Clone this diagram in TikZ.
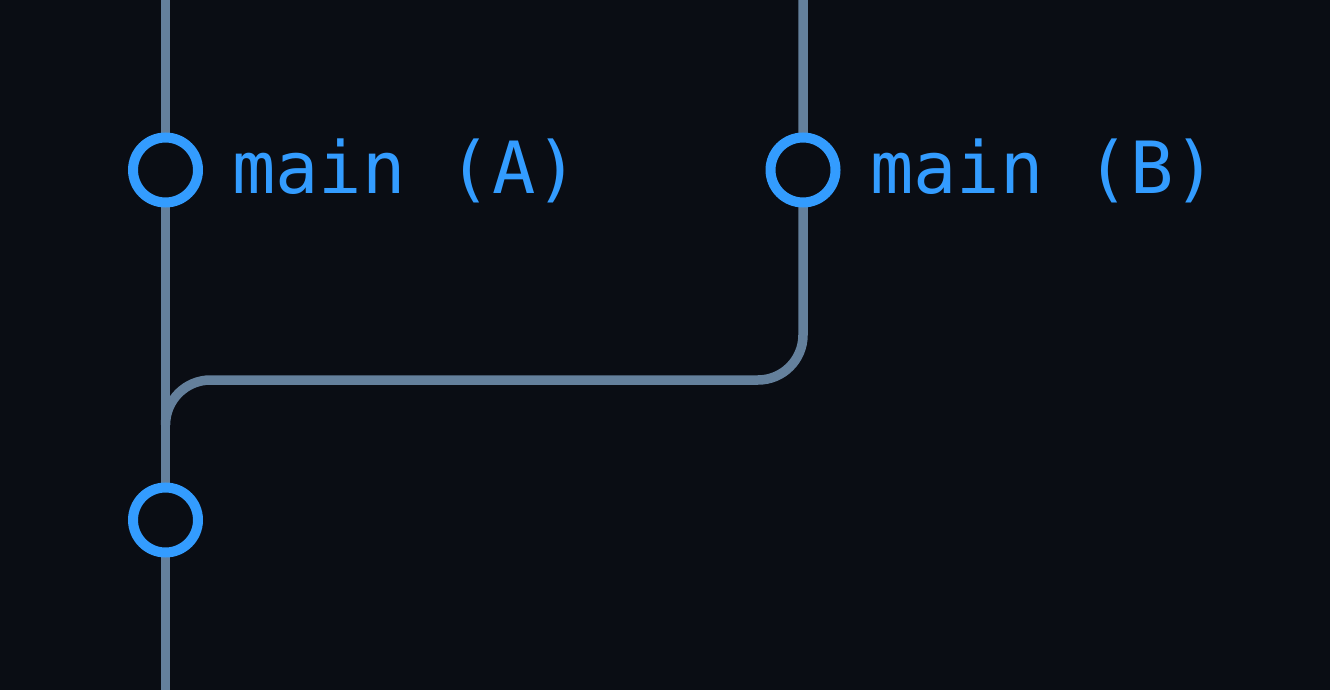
\documentclass[tikz,border=0pt]{standalone}
\usepackage{fontspec}
\newfontfamily\monofont{DejaVu Sans Mono}
\definecolor{bg}{HTML}{0A0D14}
\definecolor{edgec}{HTML}{64809C}
\definecolor{commitc}{HTML}{339CFF}
\begin{document}
\begin{tikzpicture}[x=1pt,y=-1pt,
  branchline/.style={draw=edgec,line width=9.5pt},
  commit/.style={circle,draw=commitc,line width=10pt,fill=bg,minimum size=65pt,inner sep=0pt},
  reflabel/.style={text=commitc,font=\monofont\fontsize{72}{86}\selectfont,anchor=base west,inner sep=0pt}]
\fill[bg] (0,0) rectangle (1330,690);
\useasboundingbox (0,0) rectangle (1330,690);
\coordinate (ltop) at (165.5,-10);
\coordinate (lbot) at (165.5,700);
\coordinate (rtop) at (803,-10);
\coordinate (join) at (165.5,425);
\draw[branchline] (ltop) -- (lbot);
\draw[branchline] (rtop) -- (803,335) arc[start angle=0,end angle=90,radius=45] -- (210.5,380) arc[start angle=270,end angle=180,radius=45] -- (join);
\node[commit] (a) at (165.5,170) {};
\node[commit] (b) at (803,170) {};
\node[commit] (c) at (165.5,520) {};
\node[reflabel] (la) at (232,193) {main (A)};
\node[reflabel] (lb) at (870,193) {main (B)};
\end{tikzpicture}
\end{document}
